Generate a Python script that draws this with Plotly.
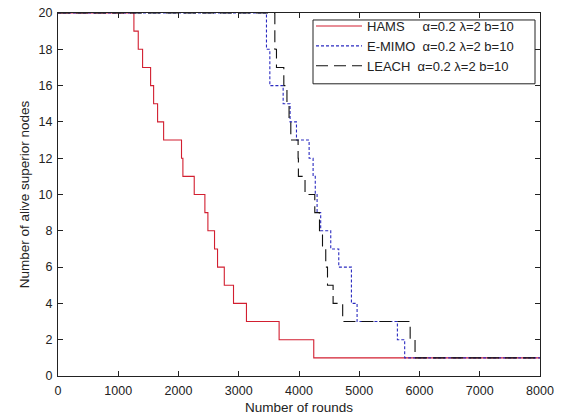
import plotly.graph_objects as go

# ---- data (step curves: x where the count changes, y = count after change) ----
hams_x = [0, 1260, 1332, 1404, 1537, 1587, 1653, 1753, 2050, 2073, 2261, 2438, 2488,
          2598, 2648, 2760, 2913, 3128, 3670, 4245, 8000]
hams_y = [20, 19, 18, 17, 16, 15, 14, 13, 12, 11, 10, 9, 8,
          7, 6, 5, 4, 3, 2, 1, 1]

emimo_x = [0, 3460, 3516, 3737, 3852, 3958, 4168, 4234, 4270, 4300, 4360, 4527,
           4660, 4870, 4964, 5633, 5754, 8000]
emimo_y = [20, 18, 16, 15, 14, 13, 12, 11, 10, 9, 8, 7,
           6, 4, 3, 2, 1, 1]

leach_x = [0, 3599, 3626, 3748, 3800, 3835, 3864, 3985, 3990, 4100, 4262, 4340,
           4390, 4444, 4473, 4566, 4725, 5845, 5926, 8000]
leach_y = [20, 18, 17, 16, 15, 14, 13, 12, 11, 10, 9, 8,
           7, 6, 5, 4, 3, 2, 1, 1]

names = ["HAMS\u00a0\u00a0\u00a0\u00a0\u00a0α=0.2 λ=2 b=10",
         "E-MIMO\u00a0\u00a0α=0.2 λ=2 b=10",
         "LEACH\u00a0\u00a0α=0.2 λ=2 b=10"]

x_ticks = [0, 1000, 2000, 3000, 4000, 5000, 6000, 7000, 8000]
y_ticks = [0, 2, 4, 6, 8, 10, 12, 14, 16, 18, 20]

FONT = "Liberation Sans, Arial, sans-serif"
INK = "#222"

fig = go.Figure()
fig.add_trace(go.Scatter(x=hams_x, y=hams_y, mode="lines", line_shape="hv",
                         name=names[0], line=dict(color="#d21f30", width=1.1)))
fig.add_trace(go.Scatter(x=emimo_x, y=emimo_y, mode="lines", line_shape="hv",
                         name=names[1], line=dict(color="#2a2ac0", width=1.1, dash="3px,2px")))
fig.add_trace(go.Scatter(x=leach_x, y=leach_y, mode="lines", line_shape="hv",
                         name=names[2], line=dict(color="#111111", width=1.1, dash="12px,6px")))

axis_common = dict(showgrid=False, zeroline=False, showline=True, linecolor=INK,
                   linewidth=1, mirror="ticks", ticks="inside", ticklen=5,
                   tickcolor=INK, tickfont=dict(family=FONT, size=12.5, color=INK),
                   title_font=dict(family=FONT, size=13.5, color=INK),
                   automargin=False)

fig.update_xaxes(range=[0, 8000], tickvals=x_ticks, title_text="Number of rounds",
                 ticklabelstandoff=3, title_standoff=6, **axis_common)
fig.update_yaxes(range=[0, 20], tickvals=y_ticks,
                 title_text="Number of alive superior nodes", ticklabelstandoff=2,
                 title_standoff=5, **axis_common)

# legend frame (paper coordinates)
fig.add_shape(type="rect", xref="paper", yref="paper",
              x0=(313 - 58) / 482, x1=(535 - 58) / 482,
              y0=1 - (83 - 12) / 364, y1=1 - (19 - 12) / 364,
              line=dict(color=INK, width=1), fillcolor="white", layer="above")

fig.update_layout(
    width=562, height=415,
    margin=dict(l=58, r=22, t=12, b=39),
    paper_bgcolor="white", plot_bgcolor="white",
    font=dict(family=FONT, color=INK),
    legend=dict(x=(311 - 58) / 482, xanchor="left", y=1 - (11 - 12) / 364, yanchor="top",
                bgcolor="rgba(0,0,0,0)", borderwidth=0,
                font=dict(family=FONT, size=13, color=INK),
                itemwidth=46, tracegroupgap=0),
    showlegend=True,
)

fig.write_html("out.html")
